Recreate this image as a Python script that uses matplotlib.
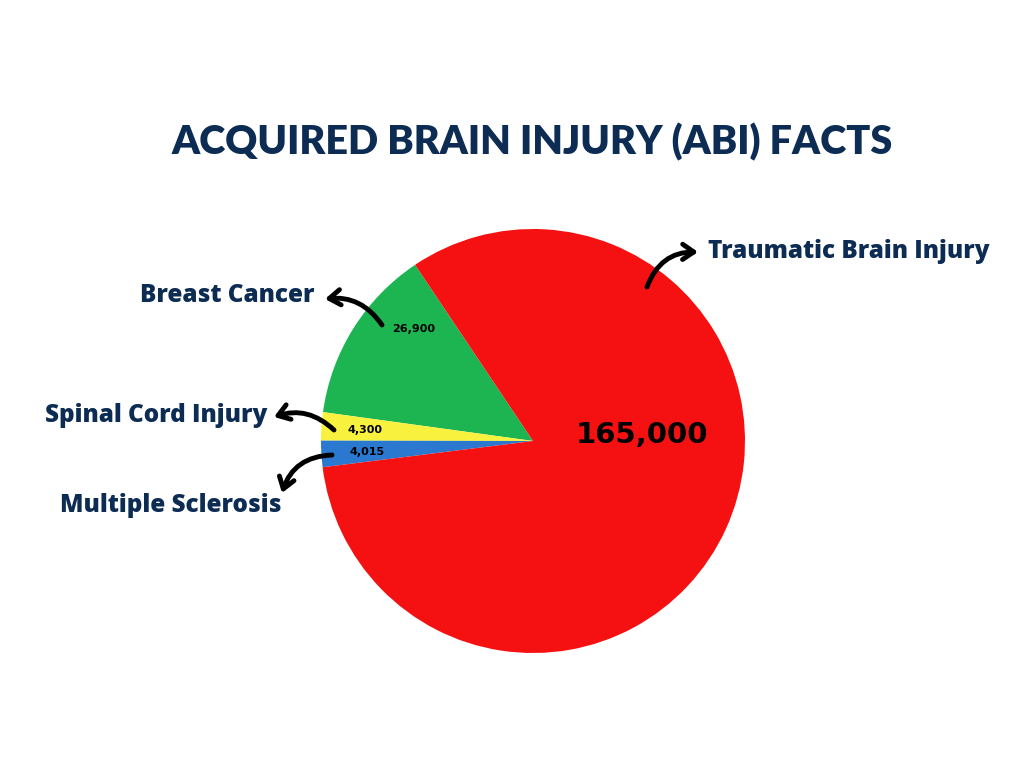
import matplotlib.pyplot as plt

# Данные диаграммы
categories = ['Breast Cancer', 'Spinal Cord Injury', 'Multiple Sclerosis', 'Traumatic Brain Injury']
values = [26900, 4300, 4015, 165000]
colors = ['#1db552', '#f8f23f', '#2a78cf', '#f51111']
title = 'ACQUIRED BRAIN INJURY (ABI) FACTS'

NAVY = '#0c2c54'
H = 768  # высота в пикселях, для перевода координат (y вниз -> y вверх)


def py(y):
    return H - y


fig = plt.figure(figsize=(10.24, 7.68), dpi=100)
ax = fig.add_axes([0, 0, 1, 1])

ax.pie(values, colors=colors, startangle=123.8, counterclock=True,
       center=(533, py(441)), radius=212, frame=True,
       wedgeprops=dict(linewidth=0))
ax.set_xlim(0, 1024)
ax.set_ylim(0, H)
ax.set_aspect('equal')
ax.axis('off')

# Заголовок
ax.text(532, py(142), title, ha='center', va='center', fontsize=28.5,
        fontfamily='Lato', fontweight='heavy', color=NAVY)

# Подписи категорий
label_kw = dict(fontsize=17.5, fontfamily='Open Sans', fontweight='heavy', color=NAVY, va='center')
ax.text(314, py(295), categories[0], ha='right', **label_kw)
ax.text(267, py(415), categories[1], ha='right', **label_kw)
ax.text(282, py(506), categories[2], ha='right', **label_kw)
ax.text(708, py(252), categories[3], ha='left', **label_kw)

# Значения
val_kw = dict(fontfamily='DejaVu Sans', fontweight='bold', color='black', va='center', ha='center')
ax.text(414, py(329), f'{values[0]:,}', fontsize=8, **val_kw)
ax.text(365, py(430), f'{values[1]:,}', fontsize=8, **val_kw)
ax.text(367, py(452), f'{values[2]:,}', fontsize=8, **val_kw)
ax.text(642, py(435), f'{values[3]:,}', fontsize=21, **val_kw)

# Стрелки
arrow = dict(arrowstyle='->,head_length=0.8,head_width=0.55', lw=3.5, color='black',
             capstyle='round', joinstyle='round', shrinkA=0, shrinkB=0)
ax.annotate('', xy=(325, py(299)), xytext=(382, py(325)),
            arrowprops=dict(connectionstyle='arc3,rad=0.3', **arrow))
ax.annotate('', xy=(274, py(417)), xytext=(334, py(430)),
            arrowprops=dict(connectionstyle='arc3,rad=0.3', **arrow))
ax.annotate('', xy=(282, py(493)), xytext=(332, py(455)),
            arrowprops=dict(connectionstyle='arc3,rad=0.35', **arrow))
ax.annotate('', xy=(698, py(252)), xytext=(647, py(287)),
            arrowprops=dict(connectionstyle='arc3,rad=-0.35', **arrow))

fig.savefig('out.png', dpi=100)
